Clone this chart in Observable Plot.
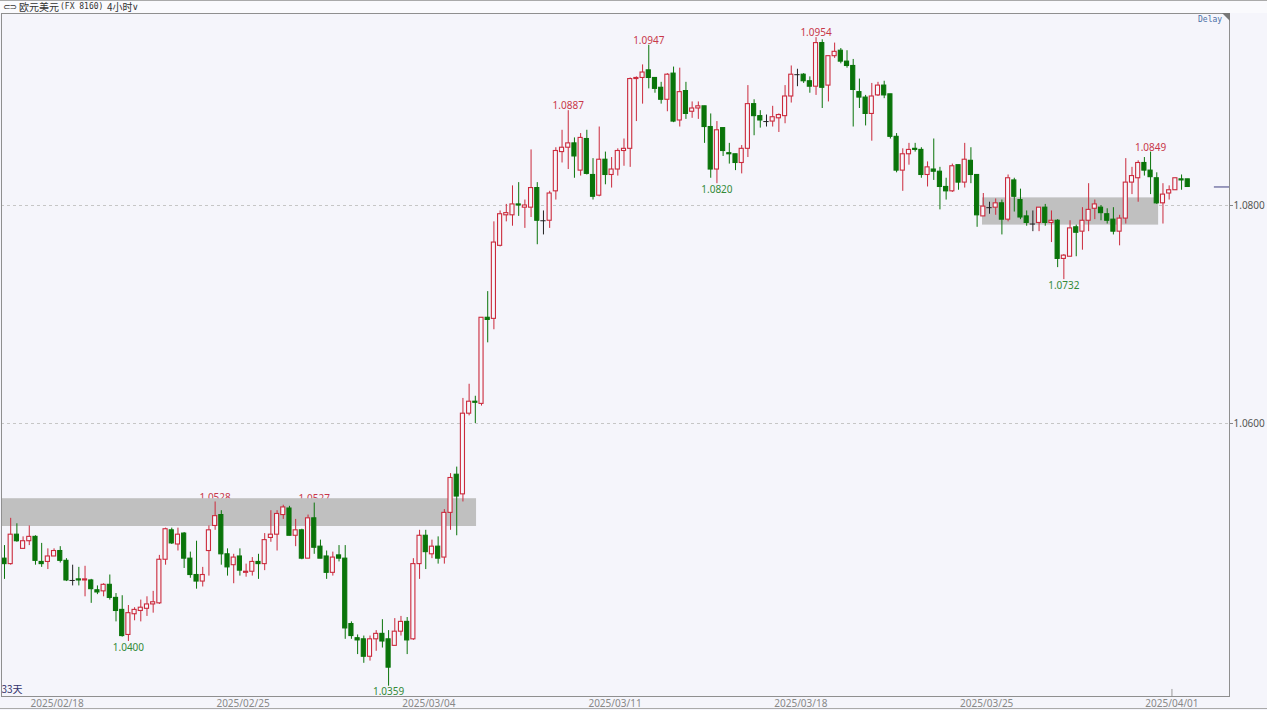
<!DOCTYPE html>
<html><head><meta charset="utf-8">
<script src="https://cdn.jsdelivr.net/npm/d3@7"></script>
<script src="https://cdn.jsdelivr.net/npm/@observablehq/plot@0.6"></script>
<style>
html,body{margin:0;padding:0;background:#f5f5fb;width:1267px;height:710px;overflow:hidden}
#wrap{position:relative;width:1267px;height:710px}
#head{position:absolute;left:0;top:0;width:1267px;height:12px;background:#fafafd;border-top:1px solid #aaa}
#head span{position:absolute;top:0;color:#333;white-space:nowrap}
#tri{position:absolute;left:1222px;top:13px;width:8px;height:8px;background:#777;clip-path:polygon(0 0,100% 0,100% 100%)}
#delay{position:absolute;left:1198px;top:15px;font:8px "DejaVu Sans Mono",monospace;color:#4a6fa5}
#foot{position:absolute;left:0;top:708px;width:1267px;height:1px;background:#aaa}
#wrap svg{position:absolute;left:0;top:0;background:transparent}
</style></head><body>
<div id="wrap"></div>
<script>
// Prices in pips (price × 10000), one entry per 4-hour candle
const opens = [10476,10471,10498,10485,10492,10496,10473,10473,10478,10483,
10474,10456,10457,10456,10456,10447,10446,10452,10440,10429,
10406,10425,10428,10430,10434,10435,10475,10502,10489,10499,
10476,10461,10455,10483,10506,10516,10480,10470,10478,10463,
10464,10473,10471,10495,10498,10516,10522,10497,10502,10476,
10513,10487,10478,10463,10479,10476,10416,10403,10402,10386,
10402,10407,10402,10396,10409,10418,10402,10471,10497,10480,
10487,10477,10518,10553,10535,10609,10620,10618,10697,10696,
10763,10791,10791,10801,10798,10798,10816,10786,10786,10813,
10849,10853,10857,10832,10861,10828,10809,10842,10828,10833,
10850,10852,10916,10917,10924,10917,10908,10897,10921,10878,
10905,10886,10889,10891,10872,10833,10871,10848,10847,10839,
10852,10893,10882,10877,10877,10880,10882,10900,10920,10920,
10914,10909,10949,10910,10937,10942,10932,10928,10904,10899,
10884,10901,10910,10902,10863,10832,10847,10852,10851,10828,
10833,10831,10817,10813,10837,10821,10841,10828,10790,10798,
10798,10802,10787,10823,10805,10790,10783,10784,10798,10784,
10786,10751,10753,10780,10776,10786,10797,10798,10792,10787,
10776,10788,10821,10825,10839,10832,10825,10802,10811,10814,
10824,10824];
const closes = [10471,10498,10492,10492,10496,10474,10471,10478,10483,10474,
10456,10456,10456,10457,10448,10445,10452,10440,10428,10405,
10426,10429,10431,10434,10436,10475,10503,10490,10498,10476,
10461,10455,10461,10502,10515,10480,10468,10477,10465,10464,
10473,10471,10493,10498,10517,10523,10497,10502,10476,10513,
10486,10476,10463,10477,10476,10412,10405,10401,10386,10402,
10407,10400,10376,10409,10418,10401,10471,10497,10482,10487,
10476,10518,10550,10533,10609,10620,10619,10697,10695,10766,
10792,10793,10801,10800,10800,10816,10786,10786,10811,10850,
10853,10857,10845,10862,10829,10808,10842,10828,10833,10850,
10852,10916,10917,10922,10917,10907,10897,10920,10877,10904,
10884,10889,10891,10872,10833,10869,10850,10847,10839,10852,
10893,10882,10878,10877,10881,10883,10900,10920,10920,10914,
10909,10949,10908,10937,10941,10932,10928,10906,10899,10884,
10900,10910,10901,10863,10832,10847,10851,10851,10828,10835,
10831,10817,10813,10836,10821,10842,10828,10791,10799,10798,
10802,10787,10825,10808,10789,10784,10783,10798,10784,10786,
10751,10754,10779,10775,10786,10796,10801,10793,10786,10776,
10788,10821,10827,10839,10832,10826,10802,10810,10814,10825,
10823,10817];
const highs = [10488,10513,10508,10496,10506,10497,10490,10485,10485,10487,
10476,10470,10468,10469,10457,10451,10453,10461,10444,10442,
10433,10431,10438,10441,10446,10479,10504,10504,10504,10500,
10482,10492,10468,10506,10528,10520,10485,10480,10485,10471,
10477,10480,10499,10520,10520,10525,10524,10512,10503,10516,
10527,10493,10483,10482,10488,10488,10418,10406,10405,10405,
10410,10420,10410,10421,10423,10422,10476,10502,10502,10493,
10496,10521,10554,10560,10623,10636,10625,10697,10721,10785,
10795,10801,10818,10821,10805,10851,10821,10795,10813,10853,
10869,10887,10862,10866,10869,10843,10872,10849,10844,10852,
10861,10917,10918,10929,10947,10917,10913,10921,10927,10926,
10913,10895,10895,10891,10884,10877,10871,10857,10847,10855,
10910,10897,10887,10883,10891,10884,10910,10928,10925,10921,
10918,10954,10952,10937,10949,10944,10942,10934,10916,10901,
10912,10913,10914,10902,10866,10852,10857,10857,10853,10840,
10861,10835,10825,10838,10837,10857,10853,10828,10811,10803,
10806,10805,10828,10825,10815,10795,10795,10798,10801,10795,
10787,10755,10786,10782,10798,10820,10805,10800,10797,10798,
10791,10843,10835,10841,10844,10849,10830,10820,10818,10825,
10828,10824];
const lows = [10457,10470,10491,10485,10488,10470,10468,10466,10478,10472,
10455,10451,10451,10441,10435,10443,10441,10438,10418,10404,
10400,10419,10418,10423,10426,10434,10470,10489,10483,10467,
10458,10448,10450,10460,10502,10470,10460,10453,10460,10459,
10460,10457,10465,10491,10483,10512,10497,10487,10475,10476,
10480,10476,10457,10460,10473,10402,10402,10388,10380,10382,
10391,10394,10359,10396,10405,10388,10401,10457,10466,10476,
10471,10471,10502,10497,10528,10607,10600,10616,10674,10686,
10762,10785,10781,10790,10779,10789,10764,10773,10779,10805,
10839,10833,10825,10827,10828,10805,10808,10819,10816,10827,
10836,10835,10877,10893,10907,10903,10893,10886,10876,10872,
10879,10880,10879,10857,10825,10820,10845,10838,10832,10829,
10844,10864,10871,10872,10872,10867,10875,10894,10909,10912,
10903,10901,10889,10895,10935,10930,10926,10872,10889,10873,
10859,10900,10898,10861,10830,10813,10837,10849,10825,10817,
10823,10796,10805,10812,10814,10816,10820,10780,10790,10792,
10791,10773,10785,10794,10787,10781,10776,10776,10781,10766,
10743,10732,10753,10753,10759,10776,10787,10786,10783,10773,
10763,10783,10810,10803,10827,10810,10801,10783,10805,10814,
10814,10817];

const zones = [
  {from:-0.65, to:76.2, low:1.05055, high:1.0531},
  {from:157.87, to:186.3, low:1.0782, high:1.0807}
];
const gridPrices = [1.06, 1.08];
const dateTicks = [8.5, 38.5, 68.5, 98.55, 128.55, 158.55, 188.45];
const dateLabels = ["2025/02/18","2025/02/25","2025/03/04","2025/03/11","2025/03/18","2025/03/25","2025/04/01"];
const peaks = [
  {i:34,  price:1.0528},
  {i:50,  price:1.0527},
  {i:91,  price:1.0887},
  {i:104, price:1.0947},
  {i:131, price:1.0954},
  {i:185, price:1.0849}
];
const troughs = [
  {i:20,  price:1.0400},
  {i:62,  price:1.0359},
  {i:115, price:1.0820},
  {i:171, price:1.0732}
];
const lastPrice = 1.0817;

const UP = "#cb2a3c", DOWN = "#0a740a", FLAT = "#222";
const candles = opens.map((o,i)=>({i, o:o/1e4, c:closes[i]/1e4, h:highs[i]/1e4, l:lows[i]/1e4}));
const colorOf = d => d.c>d.o ? UP : d.c<d.o ? DOWN : FLAT;
const HW = 0.33;
const bodies = candles.filter(d=>d.c!==d.o);
const flats = candles.filter(d=>d.c===d.o);
const font = '"Noto Sans",sans-serif';

const plot = Plot.plot({
  width:1267, height:710,
  marginLeft:1, marginRight:38, marginTop:13, marginBottom:14,
  style:{background:"transparent", fontFamily:font},
  x:{domain:[-0.484,197.74], axis:null},
  y:{domain:[1.034954,1.097615], axis:null},
  marks:[
    Plot.ruleY(gridPrices,{stroke:"#c6c6c6", strokeDasharray:"3,3", strokeWidth:1}),
    Plot.text(peaks,{x:"i", y:"price", text:d=>d.price.toFixed(4), dy:-4.5, fill:"#c8374a", fontSize:10, fontFamily:font}),
    Plot.text(troughs,{x:"i", y:"price", text:d=>d.price.toFixed(4), dy:6, fill:"#338a38", fontSize:10, fontFamily:font}),
    Plot.rect(zones,{x1:"from", x2:"to", y1:"low", y2:"high", fill:"#c0c0c0", clip:true}),
    Plot.ruleX(candles,{x:"i", y1:"l", y2:"h", stroke:colorOf, strokeWidth:1}),
    Plot.rect(bodies,{x1:d=>d.i-HW, x2:d=>d.i+HW, y1:"o", y2:"c",
      fill:d=>d.c>d.o?"#f7f7fc":DOWN, stroke:colorOf, strokeWidth:1.1}),
    Plot.ruleY(flats,{x1:d=>d.i-HW-0.1, x2:d=>d.i+HW+0.1, y:"o", stroke:FLAT, strokeWidth:1}),
    Plot.ruleY([lastPrice],{x1:195.3, x2:197.74, stroke:"#3f3f80", strokeWidth:1}),
    Plot.text(["33天"],{x:-0.484, y:1.03560, text:d=>d, textAnchor:"start", fill:"#33336b", fontSize:10, fontFamily:'"Noto Sans CJK SC",sans-serif'}),
    Plot.frame({stroke:"#8f8f8f", strokeWidth:1}),
    Plot.axisX(dateTicks,{anchor:"bottom", tickSize:0, tickPadding:3, label:null, fontSize:10,
      tickFormat:d=>dateLabels[dateTicks.indexOf(d)], fill:"#888", fontFamily:font}),
    Plot.ruleX([dateTicks[6]],{y1:1.03495, y2:1.0356, stroke:"#999", strokeWidth:1}),
    Plot.axisY(gridPrices,{anchor:"right", tickSize:3, tickPadding:1, label:null, fontSize:10,
      tickFormat:d=>d.toFixed(4), fill:"#555", stroke:"#888", fontFamily:font})
  ]
});
const wrap = document.getElementById("wrap");
wrap.appendChild(plot);
const head = document.createElement("div");
head.id = "head";
const cjkFont = "10px/12px 'Noto Sans CJK SC',sans-serif";
head.innerHTML =
 `<span style="left:3px;font:9px/12px 'DejaVu Sans';letter-spacing:-1px">⊂⊃</span>`+
 `<span style="left:19px;font:${cjkFont}">欧元美元</span>`+
 `<span style="left:60px;font:8px/12px 'DejaVu Sans Mono'">(FX 8160)</span>`+
 `<span style="left:107px;font:${cjkFont}">4小时</span>`+
 `<span style="left:132px;font:9px/12px 'DejaVu Sans'">∨</span>`;
wrap.appendChild(head);
for (const [id,txt] of [["tri",""],["delay","Delay"],["foot",""]]) {
  const d = document.createElement("div"); d.id=id; d.textContent=txt; wrap.appendChild(d);
}
</script>
</body></html>
